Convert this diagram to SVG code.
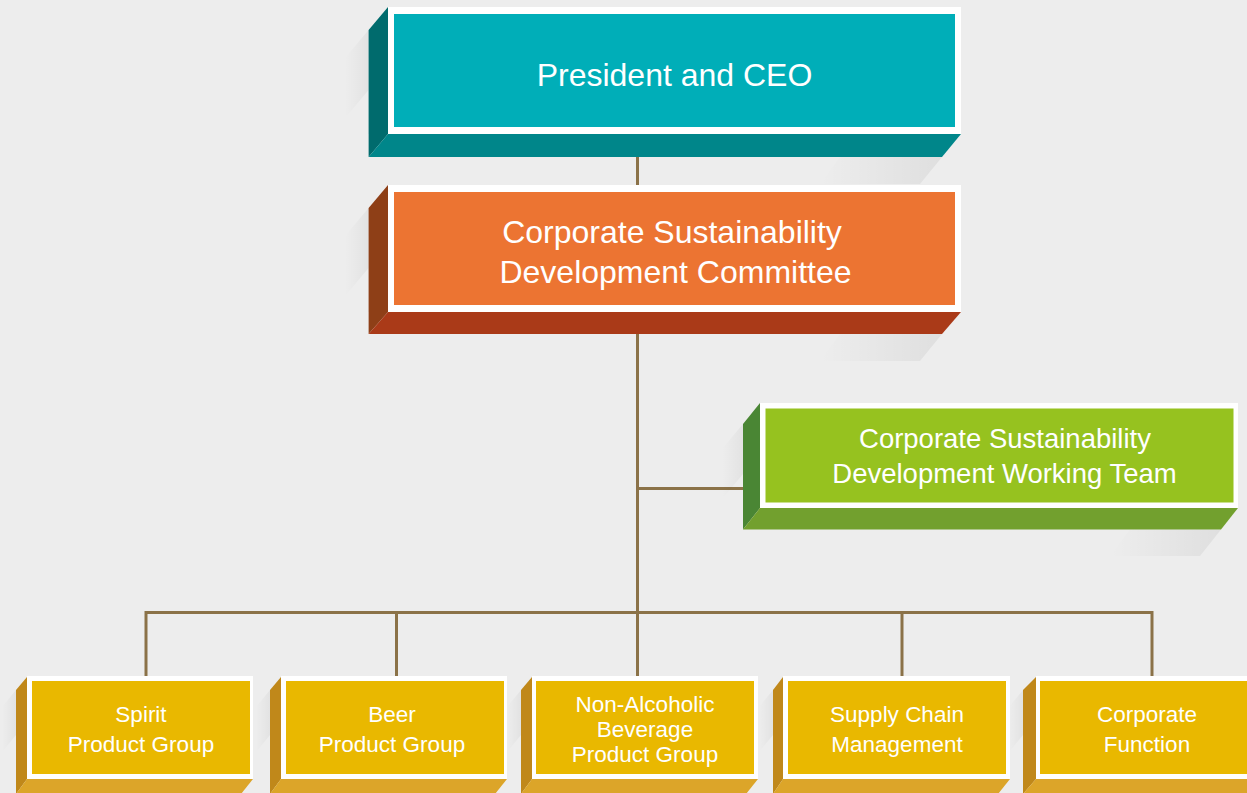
<svg xmlns="http://www.w3.org/2000/svg" width="1247" height="793" viewBox="0 0 1247 793">
<defs>
<linearGradient id="shB" x1="0" y1="0" x2="1" y2="0"><stop offset="0" stop-color="#000" stop-opacity="0"/><stop offset="1" stop-color="#000" stop-opacity="0.06"/></linearGradient>
<linearGradient id="shL" x1="1" y1="0" x2="0" y2="0"><stop offset="0" stop-color="#000" stop-opacity="0.045"/><stop offset="1" stop-color="#000" stop-opacity="0"/></linearGradient>
<style>
.frame{fill:#ffffff}
.conn{stroke:#8B7248;stroke-width:3;fill:none}
.t{font-family:"Liberation Sans",Arial,sans-serif;fill:#ffffff;text-anchor:middle}
.big{font-size:32px}
.mid{font-size:27.5px}
.sm{font-size:22.5px}
.tealI{fill:#00AEB8}.tealB{fill:#00868A}.tealS{fill:#006B6D}
.orI{fill:#EC7432}.orB{fill:#AA3A18}.orS{fill:#8E3F17}
.grI{fill:#96C21F}.grB{fill:#72A02E}.grS{fill:#4A8634}
.yeI{fill:#E9B800}.yeB{fill:#DCA529}.yeS{fill:#C0881A}
</style>
</defs>
<rect width="1247" height="793" fill="#EDEDED"/>

<g id="connectors">
<line class="conn" x1="637.5" y1="157" x2="637.5" y2="186"/>
<line class="conn" x1="637.5" y1="334" x2="637.5" y2="677"/>
<line class="conn" x1="637.5" y1="488.5" x2="743" y2="488.5"/>
<line class="conn" x1="146" y1="612.5" x2="1152" y2="612.5"/>
<line class="conn" x1="146" y1="611" x2="146" y2="677"/>
<line class="conn" x1="396.5" y1="611" x2="396.5" y2="677"/>
<line class="conn" x1="902" y1="611" x2="902" y2="677"/>
<line class="conn" x1="1152" y1="611" x2="1152" y2="677"/>
</g>

<g id="ceo">
<polygon points="345,58 368.6,30 368.6,90 345,118" fill="url(#shL)"/>
<polygon points="840,157 942,157 920,184 820,184" fill="url(#shB)"/>
<polygon class="tealS" points="368.6,30 388,7 388,134 368.6,157"/>
<polygon class="tealB" points="388,134 961,134 942,157 368.6,157"/>
<rect class="frame" x="388" y="7" width="573" height="127"/>
<rect class="tealI" x="394" y="14" width="561" height="113"/>
<text class="t big" x="674.5" y="86">President and CEO</text>
</g>

<g id="committee">
<polygon points="345,236 368.6,208 368.6,268 345,296" fill="url(#shL)"/>
<polygon points="840,334 942,334 920,361 820,361" fill="url(#shB)"/>
<polygon class="orS" points="368.6,208 388,185 388,312 368.6,334"/>
<polygon class="orB" points="388,312 961,312 942,334 368.6,334"/>
<rect class="frame" x="388" y="185" width="573" height="127"/>
<rect class="orI" x="394" y="192" width="561" height="113"/>
<text class="t big" x="672" y="243">Corporate Sustainability</text>
<text class="t big" x="675.5" y="283">Development Committee</text>
</g>

<g id="working-team">
<polygon points="722,449 743,424 743,474 722,499" fill="url(#shL)"/>
<polygon points="1130,529.5 1221,529.5 1200,556 1110,556" fill="url(#shB)"/>
<polygon class="grS" points="743,424 760,403 760,508 743,529.5"/>
<polygon class="grB" points="760,508 1238,508 1221,529.5 743,529.5"/>
<rect class="frame" x="760" y="403" width="478" height="105"/>
<rect class="grI" x="765.5" y="408.5" width="468" height="94"/>
<text class="t mid" x="1005" y="448">Corporate Sustainability</text>
<text class="t mid" x="1004.5" y="483">Development Working Team</text>
</g>

<g id="spirit">
<polygon points="2,707 16,690 16,735 2,752" fill="url(#shL)"/>
<polygon class="yeS" points="16,690 27,677 27,779 16,794"/>
<polygon class="yeB" points="27,779 253,779 241,794 16,794"/>
<rect class="frame" x="27" y="676" width="226" height="103"/>
<rect class="yeI" x="32" y="681" width="218" height="93"/>
<text class="t sm" x="141" y="722">Spirit</text>
<text class="t sm" x="141" y="752">Product Group</text>
</g>

<g id="beer">
<polygon points="256,707 270,690 270,735 256,752" fill="url(#shL)"/>
<polygon class="yeS" points="270,690 281,677 281,779 270,794"/>
<polygon class="yeB" points="281,779 507,779 495,794 270,794"/>
<rect class="frame" x="281" y="676" width="226" height="103"/>
<rect class="yeI" x="286" y="681" width="218" height="93"/>
<text class="t sm" x="392" y="722">Beer</text>
<text class="t sm" x="392" y="752">Product Group</text>
</g>

<g id="non-alcoholic">
<polygon points="507,707 521,690 521,735 507,752" fill="url(#shL)"/>
<polygon class="yeS" points="521,690 532,677 532,779 521,794"/>
<polygon class="yeB" points="532,779 758,779 746,794 521,794"/>
<rect class="frame" x="532" y="676" width="226" height="103"/>
<rect class="yeI" x="536" y="681" width="218" height="93"/>
<text class="t sm" x="645" y="712">Non-Alcoholic</text>
<text class="t sm" x="645" y="737">Beverage</text>
<text class="t sm" x="645" y="762">Product Group</text>
</g>

<g id="supply-chain">
<polygon points="759,707 773,690 773,735 759,752" fill="url(#shL)"/>
<polygon class="yeS" points="773,690 783,677 783,779 773,794"/>
<polygon class="yeB" points="783,779 1010,779 998,794 773,794"/>
<rect class="frame" x="783" y="676" width="227" height="103"/>
<rect class="yeI" x="788" y="681" width="218" height="93"/>
<text class="t sm" x="897" y="722">Supply Chain</text>
<text class="t sm" x="897" y="752">Management</text>
</g>

<g id="corporate-function">
<polygon points="1009,707 1023,690 1023,735 1009,752" fill="url(#shL)"/>
<polygon class="yeS" points="1023,690 1036,677 1036,779 1023,794"/>
<polygon class="yeB" points="1036,779 1262,779 1250,794 1023,794"/>
<rect class="frame" x="1036" y="676" width="226" height="103"/>
<rect class="yeI" x="1040" y="681" width="218" height="93"/>
<text class="t sm" x="1147" y="722">Corporate</text>
<text class="t sm" x="1147" y="752">Function</text>
</g>
</svg>
